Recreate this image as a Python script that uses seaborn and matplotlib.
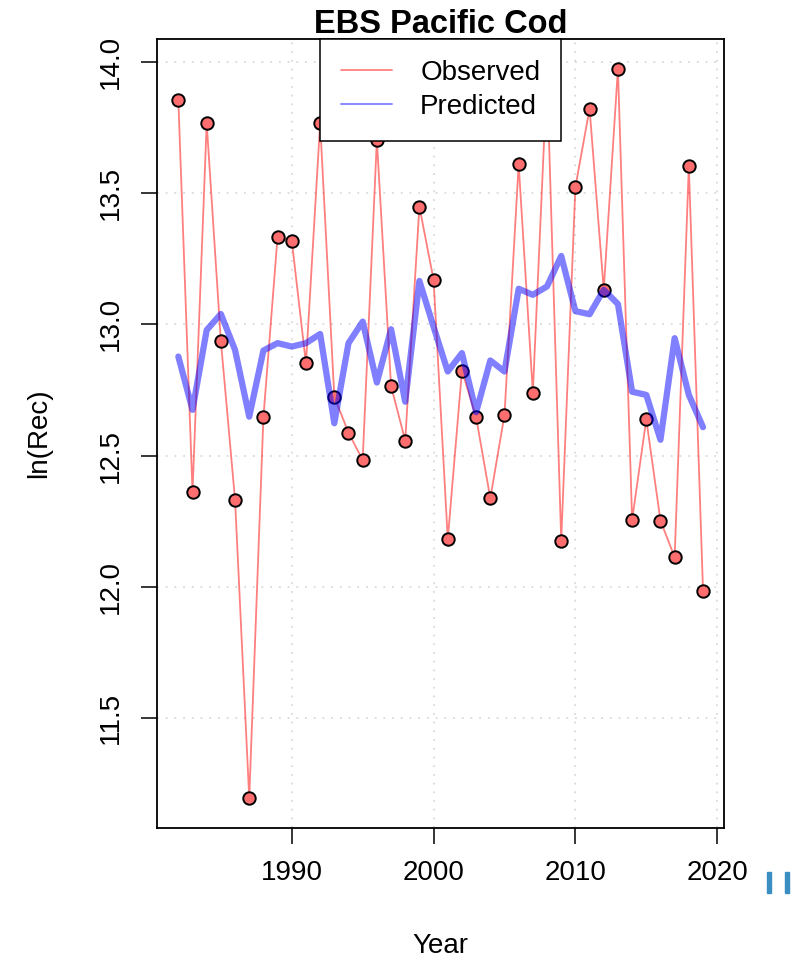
import matplotlib
matplotlib.use("Agg")
import numpy as np
import pandas as pd
import seaborn as sns
import matplotlib.pyplot as plt
from matplotlib.lines import Line2D
from matplotlib.patches import Rectangle

# Recruitment series, EBS Pacific cod
years = list(range(1982, 2020))
observed = [13.854, 12.361, 13.765, 12.936, 12.331, 11.195, 12.646, 13.334,
            13.318, 12.851, 13.765, 12.724, 12.587, 12.483, 13.702, 12.765,
            12.557, 13.448, 13.169, 12.181, 12.823, 12.646, 12.337, 12.655,
            13.610, 12.740, 13.950, 12.175, 13.522, 13.821, 13.131, 13.973,
            12.255, 12.638, 12.252, 12.113, 13.603, 11.986]
predicted = [12.877, 12.674, 12.978, 13.039, 12.902, 12.648, 12.900, 12.928,
             12.915, 12.928, 12.963, 12.623, 12.928, 13.010, 12.778, 12.981,
             12.705, 13.165, 12.990, 12.820, 12.890, 12.665, 12.862, 12.820,
             13.135, 13.112, 13.144, 13.260, 13.050, 13.038, 13.131, 13.077,
             12.743, 12.731, 12.560, 12.947, 12.731, 12.608]

x_ticks = [1990, 2000, 2010, 2020]
y_ticks = [11.5, 12.0, 12.5, 13.0, 13.5, 14.0]
legend_labels = ["Observed", "Predicted"]

df = pd.DataFrame({"Year": years, "Observed": observed, "Predicted": predicted})

sns.set_style("white")
plt.rcParams["font.family"] = ["Liberation Sans", "DejaVu Sans"]
plt.rcParams["text.color"] = "black"
plt.rcParams["axes.labelcolor"] = "black"
plt.rcParams["xtick.color"] = "black"
plt.rcParams["ytick.color"] = "black"

fig = plt.figure(figsize=(8.04, 9.63), dpi=100)
ax = fig.add_axes([0.1957, 0.1405, 0.7048, 0.8187])

# dotted grid at the tick positions
ax.grid(True, color="#d3d3d3", linestyle=(0, (1.2, 4.5)), linewidth=1.1, zorder=0)

sns.lineplot(data=df, x="Year", y="Observed", ax=ax, color="red", alpha=0.5,
             linewidth=1.3, zorder=2)
sns.scatterplot(data=df, x="Year", y="Observed", ax=ax, color="#ff6e6e",
                edgecolor="black", linewidth=1.4, s=80, zorder=3)
sns.lineplot(data=df, x="Year", y="Predicted", ax=ax, color="blue", alpha=0.5,
             linewidth=4.5, zorder=4)

ax.set_xlim(1980.52, 2020.48)
ax.set_ylim(11.083, 14.085)
ax.set_xticks(x_ticks)
ax.set_xticklabels([str(v) for v in x_ticks])
ax.set_yticks(y_ticks)
ax.set_yticklabels([f"{v:.1f}" for v in y_ticks])

ax.tick_params(axis="both", length=11.5, width=1.1, labelsize=20,
               direction="out", colors="black", left=True, bottom=True)
ax.tick_params(axis="x", pad=12)
ax.tick_params(axis="y", pad=12.8, labelrotation=90)
for lab in ax.get_yticklabels():
    lab.set_va("center")

for s in ax.spines.values():
    s.set_linewidth(1.3)
    s.set_color("black")

ax.set_title("EBS Pacific Cod", fontsize=23.5, fontweight="bold", pad=4.5,
             color="black")
ax.set_xlabel("Year", fontsize=20, color="black")
ax.set_ylabel("ln(Rec)", fontsize=20, color="black")
ax.xaxis.set_label_coords(0.5, -0.1336)
ax.yaxis.set_label_coords(-0.185, 0.5)

handles = [Line2D([], [], color="red", alpha=0.5, linewidth=1.3),
           Line2D([], [], color="blue", alpha=0.5, linewidth=1.3)]
leg = ax.legend(handles, legend_labels, loc="upper center",
                bbox_to_anchor=(0.5, 1.0), borderaxespad=0, fontsize=20,
                frameon=True, fancybox=False, edgecolor="black", framealpha=1,
                handlelength=1.85, handletextpad=1.0, borderpad=0.75,
                labelspacing=0.28)
leg.get_frame().set_linewidth(1.1)
for t in leg.get_texts():
    t.set_color("black")

# two small blue marks to the right of the x tick labels
for x0 in (767, 785):
    fig.patches.append(Rectangle((x0 / 804, (963 - 893) / 963), 4.5 / 804, 21 / 963,
                                 transform=fig.transFigure, color="#3b8ec2",
                                 figure=fig))

fig.savefig("out.png", dpi=100)
